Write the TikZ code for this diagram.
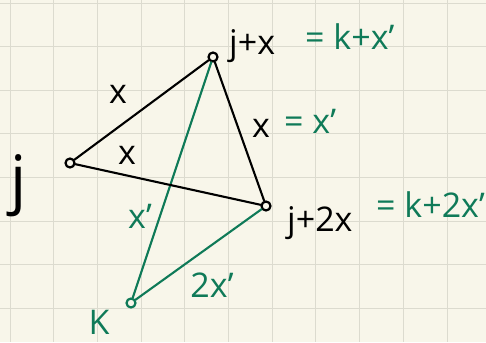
\documentclass[tikz,border=0pt]{standalone}
\usepackage{fontspec}
\setmainfont{Open Sans}
\definecolor{paper}{HTML}{F8F6EA}
\definecolor{gridc}{HTML}{DCDBCF}
\definecolor{pen}{HTML}{0F7A58}
\begin{document}
\begin{tikzpicture}[x=1pt,y=-1pt,
  vtx/.style={circle, draw, line width=2.2pt, inner sep=0pt, minimum size=9pt},
  blk/.style={line width=2.1pt, black, line cap=round},
  grn/.style={line width=2.1pt, pen, line cap=round},
  lbl/.style={font=\fontsize{34}{34}\selectfont, inner sep=0pt},
  glbl/.style={lbl, text=pen}]
\fill[paper] (0,0) rectangle (486,342);
\useasboundingbox (0,0) rectangle (486,342);
\foreach \i in {0,...,10} \draw[gridc, line width=0.9pt] ({10+43.7*\i},0) -- ++(0,342);
\foreach \i in {0,...,7} \draw[gridc, line width=0.9pt] (0,{3+43.6*\i}) -- ++(486,0);

\node[vtx] (j) at (70,163) {};
\node[vtx] (a) at (213,57) {};
\node[vtx] (b) at (266,206) {};
\node[vtx, draw=pen] (k) at (131,303) {};

\draw[grn] (a) -- (k);
\draw[grn] (k) -- (b);
\draw[blk] (j) -- (a);
\draw[blk] (j) -- (b);
\draw[blk] (a) -- (b);

\node[lbl, font=\fontsize{64}{64}\selectfont] (lj) at (19,186) {j};
\node[lbl] (l1) at (118,94) {x};
\node[lbl] (l2) at (127,155) {x};
\node[lbl, anchor=base west] (la) at (229,55) {j+x};
\node[glbl, anchor=base west] (lak) at (305,50) {= k+x'};
\node[lbl, anchor=base west] (l3) at (252,137) {x};
\node[glbl, anchor=base west] (l3k) at (284,133) {= x'};
\node[lbl, anchor=base west] (lb) at (287,231) {j+2x};
\node[glbl, anchor=base west] (lbk) at (376,217) {= k+2x'};
\node[glbl] (l4) at (140,216) {x'};
\node[glbl] (l5) at (212,285) {2x'};
\node[glbl] (lk) at (99,322) {K};
\end{tikzpicture}
\end{document}
